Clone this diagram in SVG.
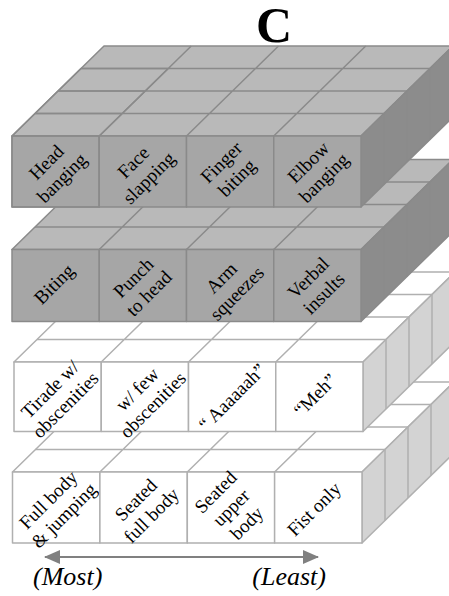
<svg xmlns="http://www.w3.org/2000/svg" width="449" height="596" viewBox="0 0 449 596">
<defs>
<style>
.dk .top{fill:#b9b9b9}
.dk .side{fill:#8c8c8c}
.dk .front{fill:#a6a6a6}
.dk polygon,.dk rect,.dk path{stroke:#8a8a8a;stroke-width:1.5;stroke-linejoin:round}
.lt .top{fill:#ffffff}
.lt .side{fill:#d3d3d3}
.lt .front{fill:#ffffff}
.lt polygon,.lt rect,.lt path{stroke:#b0b0b0;stroke-width:1.5;stroke-linejoin:round}
.grid{fill:none}
text{font-family:'Liberation Serif',serif}
.lbl{font-size:19px;fill:#000;text-anchor:middle}
.hl{fill:none;stroke:#000;stroke-width:3;stroke-linejoin:miter}
.ax{font-size:26px;font-style:italic;fill:#000}
.ttl{font-size:50px;font-weight:bold;fill:#000;text-anchor:middle}
</style>
<marker id="ah" viewBox="0 0 16 14" refX="15" refY="7" markerWidth="16" markerHeight="14" markerUnits="userSpaceOnUse" orient="auto-start-reverse">
<path d="M0,0 L16,7 L0,14 Z" fill="#808080"/>
</marker>
</defs>
<rect width="449" height="596" fill="#ffffff"/>
<text class="ttl" x="274" y="42" font-family="Liberation Serif">C</text>

<!-- Layer 4 (bottom) -->
<g id="layer4" class="lt">
<polygon class="top" points="12.5,472 362,472 454,382 104.5,382"/>
<polygon class="side" points="362,472 454,382 454,453 362,543"/>
<path class="grid" d="M35.5,449.5H385M58.5,427H408M81.5,404.5H431M99.9,472L191.9,382M187.3,472L279.3,382M274.6,472L366.6,382M385,449.5V520.5M408,427V498M431,404.5V475.5"/>
<g id="full-body"><rect class="front" x="12.5" y="472" width="87.4" height="71"/>
<g transform="translate(56,507.5) rotate(-45)"><text class="lbl" font-family="Liberation Serif" x="0" y="-4.5">Full body</text><text class="lbl" font-family="Liberation Serif" x="0" y="17.5">&amp; jumping</text></g></g>
<g id="seated-full-body"><rect class="front" x="99.9" y="472" width="87.4" height="71"/>
<g transform="translate(143.5,507.5) rotate(-45)"><text class="lbl" font-family="Liberation Serif" x="0" y="-4.5">Seated</text><text class="lbl" font-family="Liberation Serif" x="0" y="17.5">full body</text></g></g>
<g id="seated-upper-body"><rect class="front" x="187.3" y="472" width="87.4" height="71"/>
<g transform="translate(231,507.5) rotate(-45)"><text class="lbl" font-family="Liberation Serif" x="0" y="-15.5">Seated</text><text class="lbl" font-family="Liberation Serif" x="0" y="6.5">upper</text><text class="lbl" font-family="Liberation Serif" x="0" y="28.5">body</text></g></g>
<g id="fist-only"><rect class="front" x="274.6" y="472" width="87.4" height="71"/>
<g transform="translate(314,509) rotate(-45)"><text class="lbl" font-family="Liberation Serif" x="0" y="6.5">Fist only</text></g></g>
</g>

<!-- Layer 3 -->
<g id="layer3" class="lt">
<polygon class="top" points="14,362 363,362 455,272 106,272"/>
<polygon class="side" points="363,362 455,272 455,341.5 363,431.5"/>
<path class="grid" d="M37,339.5H386M60,317H409M83,294.5H432M101.25,362L193.25,272M188.5,362L280.5,272M275.75,362L367.75,272M386,339.5V409M409,317V386.5M432,294.5V364"/>
<g id="tirade"><rect class="front" x="14" y="362" width="87.25" height="69.5"/>
<g transform="translate(57.6,397) rotate(-45)"><text class="lbl" font-family="Liberation Serif" x="0" y="-4.5">Tirade w/</text><text class="lbl" font-family="Liberation Serif" x="0" y="17.5">obscenities</text></g></g>
<g id="few-obscenities"><rect class="front" x="101.25" y="362" width="87.25" height="69.5"/>
<g transform="translate(144.9,397) rotate(-45)"><text class="lbl" font-family="Liberation Serif" x="0" y="-4.5">w/ few</text><text class="lbl" font-family="Liberation Serif" x="0" y="17.5">obscenities</text></g></g>
<g id="aaaaaah"><rect class="front" x="188.5" y="362" width="87.25" height="69.5"/>
<g transform="translate(232,397) rotate(-45)"><text class="lbl" font-family="Liberation Serif" x="0" y="6.5">“ Aaaaaah”</text></g></g>
<g id="meh"><rect class="front" x="275.75" y="362" width="87.25" height="69.5"/>
<g transform="translate(315,395) rotate(-45)"><text class="lbl" font-family="Liberation Serif" x="0" y="6.5">“Meh”</text></g></g>
</g>

<!-- Layer 2 -->
<g id="layer2" class="dk">
<polygon class="top" points="12,249.5 361,249.5 453,159.5 104,159.5"/>
<polygon class="side" points="361,249.5 453,159.5 453,231.5 361,321.5"/>
<path class="grid" d="M35,227H384M58,204.5H407M81,182H430M99.25,249.5L191.25,159.5M186.5,249.5L278.5,159.5M273.75,249.5L365.75,159.5M384,227V299M407,204.5V276.5M430,182V254"/>
<g id="biting"><rect class="front" x="12" y="249.5" width="87.25" height="72"/>
<g transform="translate(54,284) rotate(-45)"><text class="lbl" font-family="Liberation Serif" x="0" y="6.5">Biting</text></g></g>
<g id="punch-to-head"><rect class="front" x="99.25" y="249.5" width="87.25" height="72"/>
<g transform="translate(141,285.5) rotate(-45)"><text class="lbl" font-family="Liberation Serif" x="0" y="-4.5">Punch</text><text class="lbl" font-family="Liberation Serif" x="0" y="17.5">to head</text></g></g>
<g id="arm-squeezes"><rect class="front" x="186.5" y="249.5" width="87.25" height="72"/>
<g transform="translate(229,285.5) rotate(-45)"><text class="lbl" font-family="Liberation Serif" x="0" y="-4.5">Arm</text><text class="lbl" font-family="Liberation Serif" x="0" y="17.5">squeezes</text></g></g>
<g id="verbal-insults"><rect class="front" x="273.75" y="249.5" width="87.25" height="72"/>
<g transform="translate(316,285.5) rotate(-45)"><text class="lbl" font-family="Liberation Serif" x="0" y="-4.5">Verbal</text><text class="lbl" font-family="Liberation Serif" x="0" y="17.5">insults</text></g></g>
</g>

<!-- Layer 1 (top) -->
<g id="layer1" class="dk">
<polygon class="top" points="12,136 361,136 453,46 104,46"/>
<polygon class="side" points="361,136 453,46 453,117 361,207"/>
<path class="grid" d="M35,113.5H384M58,91H407M81,68.5H430M99.25,136L191.25,46M186.5,136L278.5,46M273.75,136L365.75,46M384,113.5V184.5M407,91V162M430,68.5V139.5"/>
<g id="head-banging"><rect class="front" x="12" y="136" width="87.25" height="71"/>
<g transform="translate(54,170) rotate(-45)"><text class="lbl" font-family="Liberation Serif" x="0" y="-4.5">Head</text><text class="lbl" font-family="Liberation Serif" x="0" y="17.5">banging</text></g>
<path class="hl" d="M12,136H99.25V207H12Z M12,136L81,68.5H168.25L99.25,136 M35,113.5H122.25 M58,91H145.25"/></g>
<g id="face-slapping"><rect class="front" x="99.25" y="136" width="87.25" height="71"/>
<g transform="translate(141,170) rotate(-45)"><text class="lbl" font-family="Liberation Serif" x="0" y="-4.5">Face</text><text class="lbl" font-family="Liberation Serif" x="0" y="17.5">slapping</text></g></g>
<g id="finger-biting"><rect class="front" x="186.5" y="136" width="87.25" height="71"/>
<g transform="translate(229,170) rotate(-45)"><text class="lbl" font-family="Liberation Serif" x="0" y="-4.5">Finger</text><text class="lbl" font-family="Liberation Serif" x="0" y="17.5">biting</text></g></g>
<g id="elbow-banging"><rect class="front" x="273.75" y="136" width="87.25" height="71"/>
<g transform="translate(316,170) rotate(-45)"><text class="lbl" font-family="Liberation Serif" x="0" y="-4.5">Elbow</text><text class="lbl" font-family="Liberation Serif" x="0" y="17.5">banging</text></g></g>
</g>

<g id="connectors">
<line x1="45" y1="557" x2="318" y2="557" stroke="#808080" stroke-width="2" marker-start="url(#ah)" marker-end="url(#ah)"/>
</g>
<text class="ax" x="33" y="585" font-family="Liberation Serif">(Most)</text>
<text class="ax" x="326" y="585" text-anchor="end" font-family="Liberation Serif">(Least)</text>
</svg>
